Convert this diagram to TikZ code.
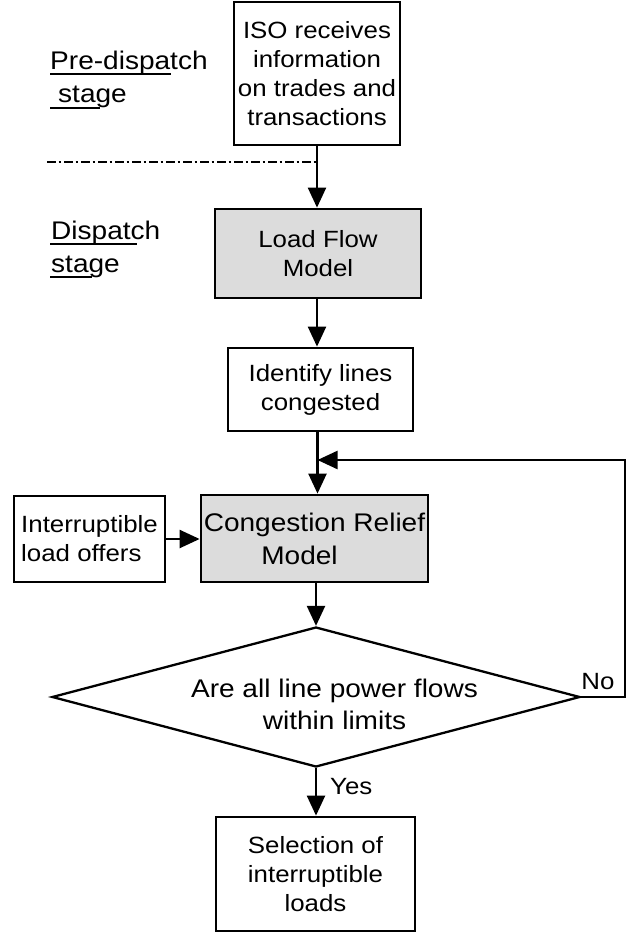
\documentclass[tikz,border=0pt]{standalone}
\usepackage{fontspec}
\setmainfont{Liberation Sans}[FakeStretch=1.1]
\usetikzlibrary{shapes.geometric,arrows.meta,calc}
\definecolor{boxgray}{RGB}{220,220,220}
\begin{document}
\begin{tikzpicture}[x=1pt,y=-1pt,
  txt/.style={font=\fontsize{23.5}{29}\selectfont},
  bigtxt/.style={font=\fontsize{25.5}{32}\selectfont},
  box/.style={draw,line width=2.8pt,rectangle,inner sep=0pt,align=center,txt},
  graybox/.style={box,fill=boxgray},
  arr/.style={draw,line width=2.3pt,-{Triangle[length=20pt,width=18pt]}},
  stagelbl/.style={bigtxt,inner sep=0pt,anchor=base west,align=left},
  uline/.style={draw,line width=1.8pt},
  lbl/.style={txt,inner sep=0pt}]
\useasboundingbox (0,0) rectangle (627,932);

% boxes
\node[box,minimum width=166pt,minimum height=143pt] (iso) at (317,73.5)
  {ISO receives\\information\\on trades and\\transactions};
\node[graybox,minimum width=206pt,minimum height=89pt] (load) at (318,253.5)
  {Load Flow\\Model};
\node[box,minimum width=185pt,minimum height=83pt] (ident) at (320.5,389.5)
  {Identify lines\\congested};
\node[graybox,font=\fontsize{25.5}{33}\selectfont,minimum width=227pt,minimum height=87pt] (cong) at (314.5,538.5)
  {Congestion Relief\\Model\hspace*{30pt}};
\node[box,align=left,minimum width=151pt,minimum height=86pt] (intr) at (89.5,539)
  {Interruptible\\load offers};
\node[draw,line width=2.3pt,diamond,minimum width=528pt,minimum height=140pt,inner sep=0pt] (dec) at (316,697) {};
\node[bigtxt,inner sep=0pt,align=center] (dectext) at (334.5,704)
  {Are all line power flows\\within limits};
\node[box,minimum width=199pt,minimum height=114pt] (sel) at (315.5,874)
  {Selection of\\interruptible\\loads};

% stage labels
\node[stagelbl] (pre) at (50,69) {Pre-dispatch};
\node[stagelbl] (prestage) at (58,102) {stage};
\node[stagelbl] (disp) at (51,239) {Dispatch};
\node[stagelbl] (dispstage) at (51,272) {stage};
\draw[uline] (50,74) -- (171,74);
\draw[uline] (50,108) -- (100,108);
\draw[uline] (50,244) -- (137,244);
\draw[uline] (50,277) -- (92,277);

% dash-dot separator
\coordinate (sepL) at (47,162);
\draw[line width=2.5pt,dash pattern=on 8.5pt off 3pt on 2.5pt off 3pt] (sepL) -- (sepL -| iso.south);

% connectors
\coordinate (join) at (317.5,460);
\draw[arr] (iso.south) -- (iso.south |- load.north);
\draw[arr] (load.south -| iso.south) -- (iso.south |- ident.north);
\draw[arr] (ident.south -| join) -- (join |- cong.north);
\draw[arr] (intr.east) -- (intr.east -| cong.west);
\draw[arr] (cong.south -| dec.north) -- (dec.north);
\draw[arr] (dec.south) -- (dec.south |- sel.north);
\draw[arr] (dec.east) -- ++(44,0) |- (join);

% branch labels
\node[lbl,anchor=west] (yes) at (330,787) {Yes};
\node[lbl,anchor=base] (no) at (598,689) {No};
\end{tikzpicture}
\end{document}
